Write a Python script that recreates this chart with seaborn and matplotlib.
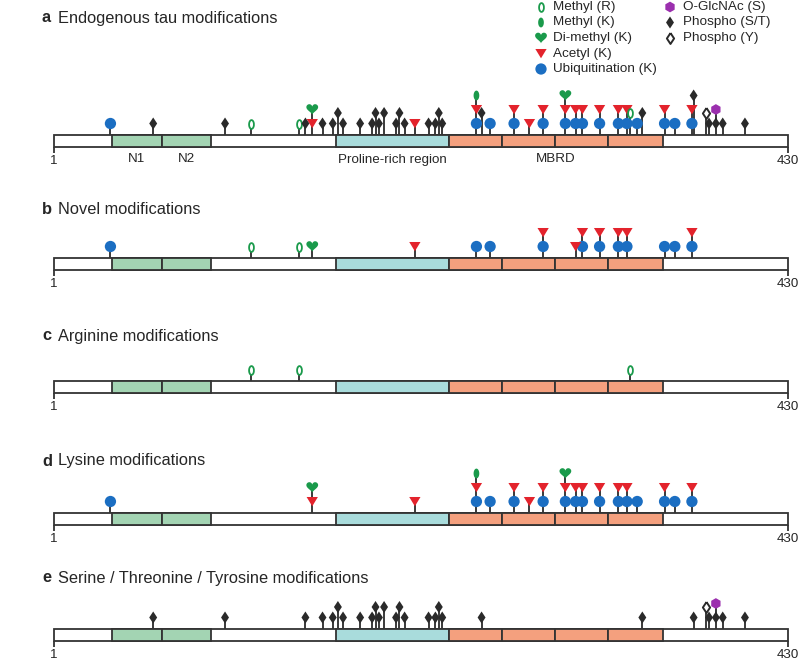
import numpy as np
import pandas as pd
import matplotlib
matplotlib.use('Agg')
import matplotlib.pyplot as plt
import seaborn as sns

sns.set_style('white')
plt.rcParams['font.family'] = ['Liberation Sans', 'DejaVu Sans']

# protein and domains (residue numbers)
seq_len = 430
n_domains = [(35, 64), (64, 93)]
n_labels = ['N1', 'N2']
prd = (166, 232)
mbrd_edges = [232, 263, 294, 325, 357]

# endogenous modification sites
ubiq_sites = [34, 248, 256, 270, 287, 300, 306, 310, 320, 331, 336, 342, 358, 364, 374]
acetyl_sites = [152, 212, 248, 270, 279, 287, 300, 306, 310, 320, 331, 336, 358, 374]
methylK_sites = [248]
dimethylK_sites = [152, 300]
methylR_sites = [116, 144, 338]
phosphoST_sites = [59, 101, 148, 158, 164, 167, 170, 180, 187, 189, 191, 194, 201, 203,
                   206, 220, 224, 226, 228, 251, 345, 375, 384, 388, 392, 405]
phosphoY_sites = [382]
oglcnac_sites = [388]

# novel sites
novel_ubiq = [34, 248, 256, 287, 310, 320, 331, 336, 358, 364, 374]
novel_acetyl = [212, 287, 306, 310, 320, 331, 336, 374]
novel_methylR = [116, 144]
novel_dimethylK = [152]

titles = ['Endogenous tau modifications', 'Novel modifications', 'Arginine modifications',
          'Lysine modifications', 'Serine / Threonine / Tyrosine modifications']
letters = ['a', 'b', 'c', 'd', 'e']

legend_col1 = [('methylR', 'Methyl (R)'), ('methylK', 'Methyl (K)'), ('dimethylK', 'Di-methyl (K)'),
               ('acetyl', 'Acetyl (K)'), ('ubiq', 'Ubiquitination (K)')]
legend_col2 = [('oglcnac', 'O-GlcNAc (S)'), ('phosphoST', 'Phospho (S/T)'), ('phosphoY', 'Phospho (Y)')]


def ellipse(rx, n=40):
    t = np.linspace(0, 2 * np.pi, n)
    return np.column_stack([rx * np.cos(t), np.sin(t)])


t = np.linspace(0, 2 * np.pi, 80)
heart = np.column_stack([16 * np.sin(t) ** 3,
                         13 * np.cos(t) - 5 * np.cos(2 * t) - 2 * np.cos(3 * t) - np.cos(4 * t) + 2.5])
tri = np.array([[-1, 0.8], [1, 0.8], [0, -0.85], [-1, 0.8]])
diamond = np.array([[0, 1], [0.66, 0], [0, -1], [-0.66, 0], [0, 1]])

GREEN = '#1a9a4b'
styles = {
    'ubiq': dict(marker='o', s=66, color='#1b6ec2', edgecolor='none'),
    'acetyl': dict(marker=tri, s=66, color='#e3232c', edgecolor='none'),
    'methylK': dict(marker=ellipse(0.58), s=50, color=GREEN, edgecolor='none'),
    'dimethylK': dict(marker=heart, s=72, color=GREEN, edgecolor='none'),
    'methylR': dict(marker=ellipse(0.55), s=40, color='white', edgecolor=GREEN, linewidth=1.3),
    'phosphoST': dict(marker=diamond, s=75, color='#2a2a2a', edgecolor='none'),
    'phosphoY': dict(marker=diamond, s=62, color='white', edgecolor='#2a2a2a', linewidth=1.4),
    'oglcnac': dict(marker='h', s=60, color='#9b2fae', edgecolor='none'),
}

panels = [
    dict(ubiq=ubiq_sites, acetyl=acetyl_sites, methylK=methylK_sites, dimethylK=dimethylK_sites,
         methylR=methylR_sites, phosphoST=phosphoST_sites, phosphoY=phosphoY_sites, oglcnac=oglcnac_sites),
    dict(ubiq=novel_ubiq, acetyl=novel_acetyl, dimethylK=novel_dimethylK, methylR=novel_methylR),
    dict(methylR=methylR_sites),
    dict(ubiq=ubiq_sites, acetyl=acetyl_sites, methylK=methylK_sites, dimethylK=dimethylK_sites),
    dict(phosphoST=phosphoST_sites, phosphoY=phosphoY_sites, oglcnac=oglcnac_sites),
]


def stack(sites):
    # lysine marks pile up on the same residue, others dodge neighbours
    marks = []
    for kind in ['ubiq', 'acetyl', 'methylK', 'dimethylK']:
        for r in sites.get(kind, []):
            marks.append((r, kind, sum(1 for m in marks if m[0] == r)))
    for kind in ['methylR', 'phosphoST', 'phosphoY', 'oglcnac']:
        for r in sorted(sites.get(kind, [])):
            same = [m for m in marks if abs(m[0] - r) <= 1]
            near = [m for m in marks if 1 < abs(m[0] - r) <= 3 and m[2] == 0]
            if same:
                lvl = max(m[2] for m in same) + 1
            elif near:
                lvl = 0.75
            else:
                lvl = 0
            marks.append((r, kind, lvl))
    return pd.DataFrame(marks, columns=['res', 'kind', 'level'])


W, H = 800, 661
fig = plt.figure(figsize=(8, 6.61), dpi=100)
bar_tops = [134.5, 257.5, 381, 512.5, 628.5]
title_y = [18, 210, 336, 461, 578]
EDGE = '#333333'

for i, sites in enumerate(panels):
    top = bar_tops[i]
    ax = fig.add_axes([54 / W, 1 - (top + 16) / H, 733.7 / W, 66 / H])
    ax.set_xlim(1, seq_len)
    ax.set_ylim(-16, 50)
    ax.axis('off')

    segs = [(1, seq_len, 'white')]
    segs += [(a, b, '#a3d4b3') for a, b in n_domains]
    segs += [(prd[0], prd[1], '#a9dcdc')]
    segs += [(a, b, '#f4a07e') for a, b in zip(mbrd_edges[:-1], mbrd_edges[1:])]
    for a, b, c in segs:
        bars = ax.barh(-6, b - a, left=a, height=12, color=c, edgecolor=EDGE, linewidth=1.3, zorder=2)
        for p in bars:
            p.set_clip_on(False)
    ax.vlines([1, seq_len], -18, -12, color=EDGE, lw=1.3, clip_on=False)
    ax.text(1, -20, '1', ha='center', va='top', fontsize=9.6)
    ax.text(seq_len, -20, '430', ha='center', va='top', fontsize=9.6)

    if i == 0:
        for (a, b), lab in zip(n_domains, n_labels):
            ax.text((a + b) / 2, -19, lab, ha='center', va='top', fontsize=9.6)
        ax.text(sum(prd) / 2, -19, 'Proline-rich region', ha='center', va='top', fontsize=9.6)
        ax.text((mbrd_edges[0] + mbrd_edges[-1]) / 2, -19, 'MBRD', ha='center', va='top', fontsize=9.6)

    df = stack(sites)
    df['y'] = 11 + 14 * df['level']
    tops = df.groupby('res')['y'].max()
    ax.vlines(tops.index, 0, tops.values, color='#3a3a3a', lw=1.4, zorder=1)
    for kind, st in styles.items():
        sub = df[df.kind == kind]
        if len(sub):
            sns.scatterplot(data=sub, x='res', y='y', ax=ax, legend=False, zorder=3, clip_on=False, **st)

# overlay for titles and legend (pixel coordinates)
ov = fig.add_axes([0, 0, 1, 1])
ov.set_xlim(0, W)
ov.set_ylim(H, 0)
ov.axis('off')
for L, ttl, y in zip(letters, titles, title_y):
    ov.text(42, y, L, fontsize=11.8, fontweight='bold', va='center')
    ov.text(58, y, ttl, fontsize=11.8, va='center')

rows = [7, 22.5, 38, 53.5, 69]
for col, (mx, tx) in zip([legend_col1, legend_col2], [(541, 553), (670, 683)]):
    for (kind, lab), y in zip(col, rows):
        sns.scatterplot(x=[mx], y=[y], ax=ov, legend=False, **styles[kind])
        ov.text(tx, y, lab, fontsize=9.7, va='center')

fig.savefig('out.png', dpi=100)
